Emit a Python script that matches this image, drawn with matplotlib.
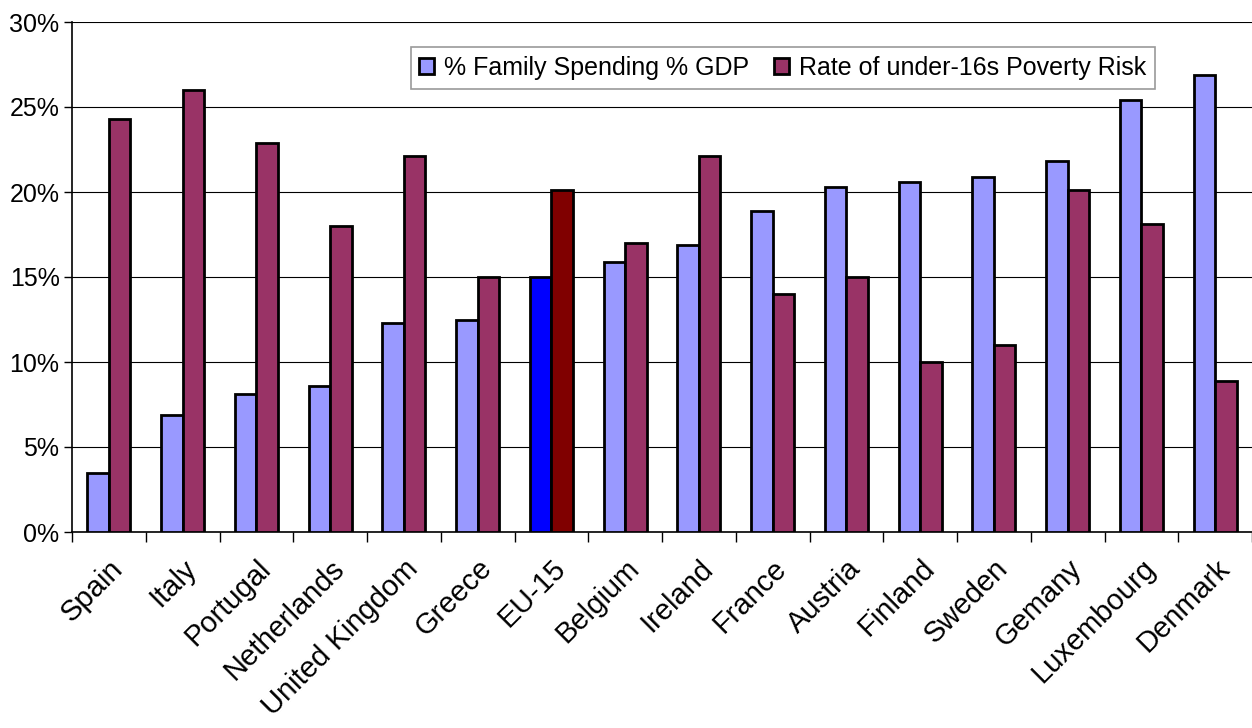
import matplotlib
matplotlib.use("Agg")
import matplotlib.pyplot as plt
import numpy as np
from matplotlib.ticker import FuncFormatter, FixedLocator

plt.rcParams['font.family'] = ['Liberation Sans', 'DejaVu Sans']

countries = ["Spain", "Italy", "Portugal", "Netherlands", "United Kingdom", "Greece",
             "EU-15", "Belgium", "Ireland", "France", "Austria", "Finland", "Sweden",
             "Gemany", "Luxembourg", "Denmark"]
family_spending = [3.5, 6.9, 8.1, 8.6, 12.3, 12.5, 15.0, 15.9, 16.9, 18.9, 20.3, 20.6, 20.9, 21.8, 25.4, 26.9]
poverty_risk = [24.3, 26.0, 22.9, 18.0, 22.1, 15.0, 20.1, 17.0, 22.1, 14.0, 15.0, 10.0, 11.0, 20.1, 18.1, 8.9]
series_names = ["% Family Spending % GDP", "Rate of under-16s Poverty Risk"]
highlight = "EU-15"

c_blue, c_red = "#9999FF", "#993366"
c_blue_hi, c_red_hi = "#0000FF", "#800000"

fig = plt.figure(figsize=(12.52, 7.28), dpi=100)
ax = fig.add_axes([72/1252, 1-532/728, 1-72/1252, (532-22)/728])

x = np.arange(len(countries))
w = 0.29
cb = [c_blue_hi if c == highlight else c_blue for c in countries]
cr = [c_red_hi if c == highlight else c_red for c in countries]
ax.bar(x - w/2, family_spending, w, color=cb, edgecolor="black", linewidth=2.0, zorder=3, label=series_names[0])
ax.bar(x + w/2, poverty_risk, w, color=cr, edgecolor="black", linewidth=2.0, zorder=3, label=series_names[1])

ax.set_xlim(-0.5, len(countries) - 0.5)
ax.set_ylim(0, 30)
ax.set_yticks(np.arange(0, 31, 5))
ax.yaxis.set_major_formatter(FuncFormatter(lambda v, p: f"{int(v)}%"))
ax.grid(axis="y", color="black", linewidth=0.8, zorder=0)

ax.set_xticks(x)
ax.set_xticklabels(countries, rotation=45, ha="right", rotation_mode="anchor", fontsize=21)
ax.tick_params(axis="x", which="major", length=0, pad=16)
ax.xaxis.set_minor_locator(FixedLocator(np.arange(-0.5, len(countries), 1)))
ax.tick_params(axis="x", which="minor", length=7, width=1, direction="out")
ax.tick_params(axis="y", length=6, width=1, direction="out", labelsize=18, pad=3)

ax.spines["right"].set_visible(False)
ax.spines["top"].set_visible(False)
ax.spines["left"].set_linewidth(1.2)
ax.spines["bottom"].set_linewidth(1.2)

leg = fig.legend(loc="center", bbox_to_anchor=(783/1252, 1-68/728), ncol=2, fontsize=18,
                 frameon=True, fancybox=False, edgecolor="#808080", handlelength=0.6,
                 handleheight=0.6, handletextpad=0.4, columnspacing=1.0, borderpad=0.35)
leg.get_frame().set_linewidth(1.2)
for h, col in zip(leg.legend_handles, [c_blue, c_red]):
    h.set_facecolor(col)
    h.set_linewidth(2.0)

fig.savefig("out.png", dpi=100)
